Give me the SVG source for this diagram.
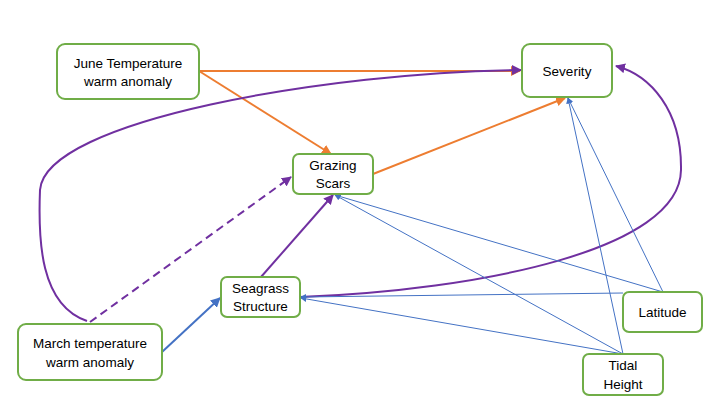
<svg xmlns="http://www.w3.org/2000/svg" width="720" height="405" viewBox="0 0 720 405">
<defs>
<style>
.box{fill:#fff;stroke:#70AD47;stroke-width:2}
.t{font-family:"Liberation Sans",Arial,sans-serif;font-size:13.5px;fill:#000;text-anchor:middle}
.or{fill:none;stroke:#ED7D31;stroke-width:2}
.pu{fill:none;stroke:#7030A0;stroke-width:2}
.bl{fill:none;stroke:#4472C4;stroke-width:2}
.bt{fill:none;stroke:#4472C4;stroke-width:1}
</style>
<marker id="ao" viewBox="0 0 10 10" refX="9" refY="5" markerWidth="5" markerHeight="5" orient="auto" markerUnits="strokeWidth"><path d="M0,0 L10,5 L0,10 z" fill="#ED7D31"/></marker>
<marker id="ap" viewBox="0 0 10 10" refX="9" refY="5" markerWidth="5" markerHeight="5" orient="auto" markerUnits="strokeWidth"><path d="M0,0 L10,5 L0,10 z" fill="#7030A0"/></marker>
<marker id="ab" viewBox="0 0 10 10" refX="9" refY="5" markerWidth="5" markerHeight="5" orient="auto" markerUnits="strokeWidth"><path d="M0,0 L10,5 L0,10 z" fill="#4472C4"/></marker>
<marker id="abt" viewBox="0 0 10 10" refX="9" refY="5" markerWidth="6" markerHeight="6" orient="auto" markerUnits="strokeWidth"><path d="M0,0 L10,5 L0,10 z" fill="#4472C4"/></marker>
</defs>
<rect width="720" height="405" fill="#fff"/>
<g id="connectors">
<path class="or" d="M199,71 L520,71" marker-end="url(#ao)"/>
<path class="or" d="M199,71 L331,154" marker-end="url(#ao)"/>
<path class="or" d="M373,174 L565,98" marker-end="url(#ao)"/>
<path class="pu" d="M87,321 C40,305 38,240 40,190 C45,120 330,72 521,70" marker-end="url(#ap)"/>
<path class="pu" d="M90,322 L291,177" stroke-dasharray="8,5" marker-end="url(#ap)"/>
<path class="pu" d="M261,277 L333,195" marker-end="url(#ap)"/>
<path class="pu" d="M300,297 C480,290 680,250 681,170 C682,110 650,75 616,66" marker-end="url(#ap)"/>
<path class="bl" d="M162,352 L220,298" marker-end="url(#ab)"/>
<path class="bt" d="M663,292 L335,195" marker-end="url(#abt)"/>
<path class="bt" d="M663,292 L568,98" marker-end="url(#abt)"/>
<path class="bt" d="M623,293 L301,297" marker-end="url(#abt)"/>
<path class="bt" d="M623,354 L335,195" marker-end="url(#abt)"/>
<path class="bt" d="M623,354 L301,298" marker-end="url(#abt)"/>
<path class="bt" d="M623,354 L568,98" marker-end="url(#abt)"/>
</g>
<g id="june"><rect class="box" x="57" y="44" width="142" height="55" rx="8"/><text class="t" x="128" y="68">June Temperature</text><text class="t" x="128" y="86">warm anomaly</text></g>
<g id="severity"><rect class="box" x="522" y="44" width="90" height="53" rx="8"/><text class="t" x="567" y="76">Severity</text></g>
<g id="grazing"><rect class="box" x="293" y="154" width="80" height="40" rx="6"/><text class="t" x="333" y="170">Grazing</text><text class="t" x="333" y="188">Scars</text></g>
<g id="seagrass"><rect class="box" x="221" y="277" width="79" height="40" rx="6"/><text class="t" x="260.5" y="293">Seagrass</text><text class="t" x="260.5" y="311">Structure</text></g>
<g id="march"><rect class="box" x="18" y="324" width="144" height="56" rx="8"/><text class="t" x="90" y="348">March temperature</text><text class="t" x="90" y="367">warm anomaly</text></g>
<g id="latitude"><rect class="box" x="623" y="292" width="79" height="40" rx="6"/><text class="t" x="662.5" y="317">Latitude</text></g>
<g id="tidal"><rect class="box" x="583" y="354" width="80" height="41" rx="6"/><text class="t" x="623" y="370">Tidal</text><text class="t" x="623" y="389">Height</text></g>
</svg>
